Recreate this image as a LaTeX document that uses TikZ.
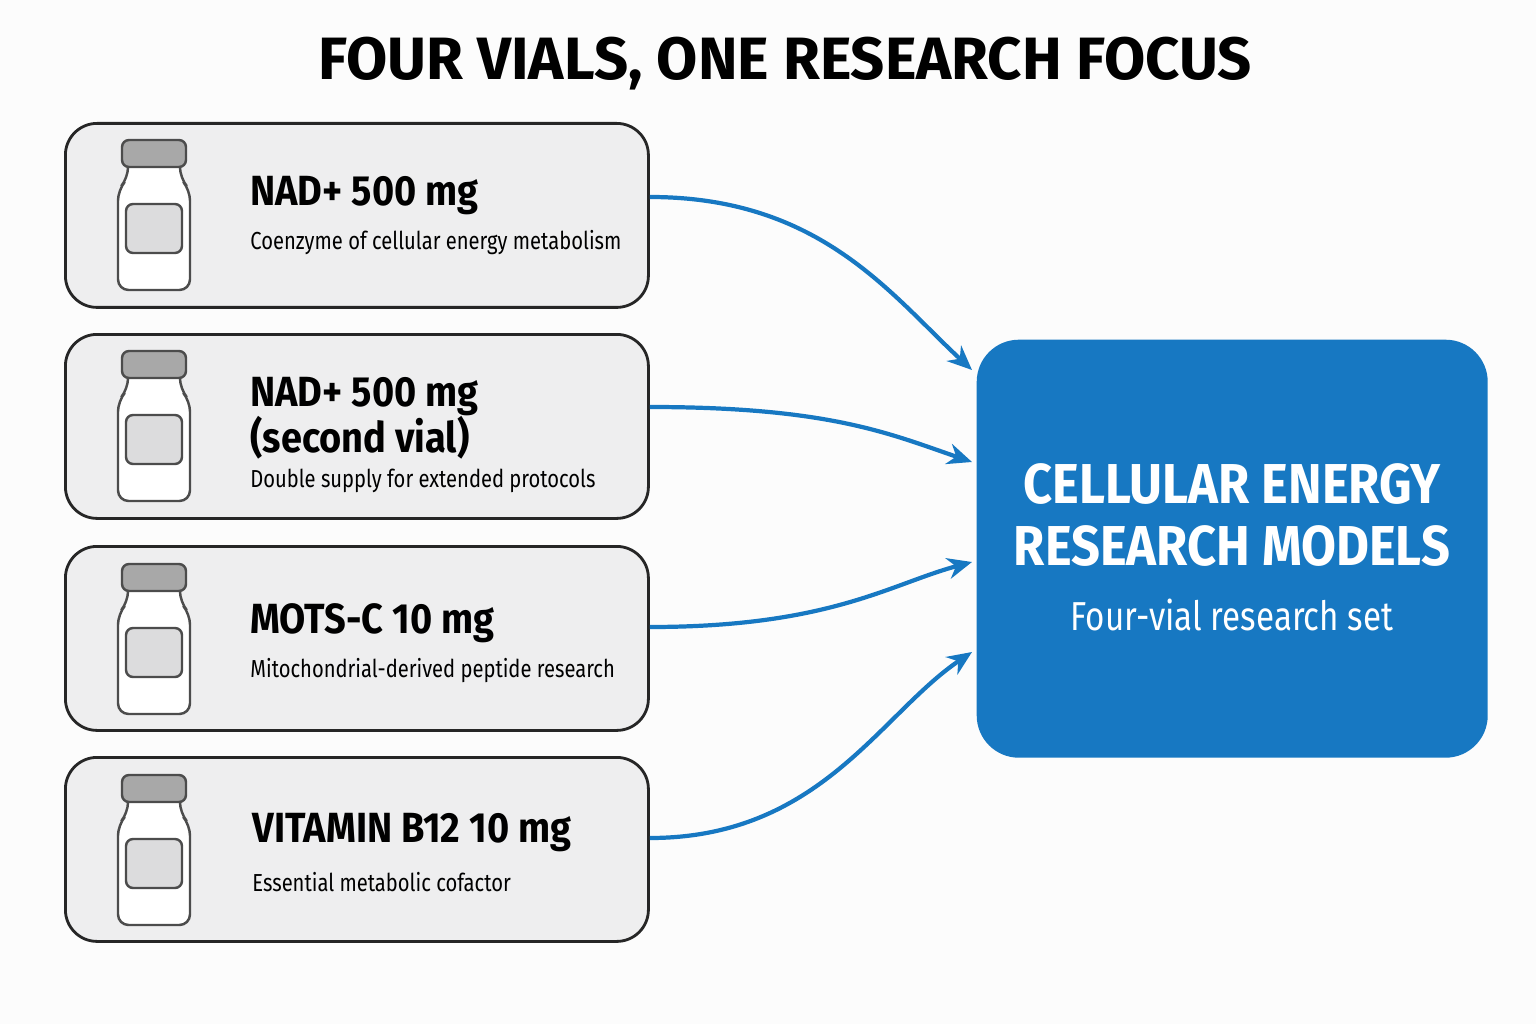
\documentclass[tikz,border=0pt]{standalone}
\usepackage{fontspec}
\setmainfont{Fira Sans}
\newfontfamily\narrowfont[FakeStretch=0.82]{Fira Sans}
\newfontfamily\semifont[FakeStretch=0.9]{Fira Sans}
\usetikzlibrary{positioning,arrows.meta}
\definecolor{panel}{HTML}{EEEEEF}
\definecolor{bluebox}{HTML}{1778C2}
\definecolor{capgray}{HTML}{A8A8A8}
\definecolor{labelgray}{HTML}{DCDCDD}
\tikzset{
  card/.style={draw=black!85, line width=0.8pt, fill=panel, rounded corners=9pt,
    minimum width=5.83cm, minimum height=1.84cm, anchor=north west},
  feed/.style={-{Stealth[length=7pt,width=6pt]}, draw=bluebox, line width=1.2pt},
  vialname/.style={anchor=west, font=\semifont\bfseries\fontsize{12}{14}\selectfont},
  vialnote/.style={anchor=west, font=\narrowfont\fontsize{7}{9}\selectfont}
}
\newcommand{\vial}[2]{% x,y of cap top-left
  \draw[black!70, line width=0.7pt, fill=white, rounded corners=3pt]
    (#1+0.06,#2-0.2) -- (#1+0.06,#2-0.38) -- (#1-0.04,#2-0.50) -- (#1-0.04,#2-1.50)
    -- (#1+0.68,#2-1.50) -- (#1+0.68,#2-0.50) -- (#1+0.58,#2-0.38) -- (#1+0.58,#2-0.2);
  \draw[black!70, line width=0.7pt, fill=capgray, rounded corners=2pt] (#1,#2) rectangle ++(0.64,-0.27);
  \draw[black!70, line width=0.7pt, fill=labelgray, rounded corners=2pt] (#1+0.04,#2-0.64) rectangle ++(0.56,-0.49);
}
\begin{document}
\begin{tikzpicture}
  \useasboundingbox (0,0) rectangle (15.36,10.24);
  \fill[white!98!gray] (0,0) rectangle (15.36,10.24);
  % title
  \node[font=\bfseries\fontsize{17}{20}\selectfont] (title) at (7.85,9.60) {FOUR VIALS, ONE RESEARCH FOCUS};
  % cards
  \node[card] (nad) at (0.64,9.02) {};
  \node[card] (nadtwo) at (0.64,6.91) {};
  \node[card] (mots) at (0.64,4.79) {};
  \node[card] (btwelve) at (0.64,2.68) {};
  \foreach \y in {8.84,6.73,4.60,2.49} {\vial{1.22}{\y}}
  % card texts
  \node[vialname] (nadname) at (2.38,8.28) {NAD+ 500 mg};
  \node[vialnote] (nadnote) at (2.38,7.81) {Coenzyme of cellular energy metabolism};
  \node[vialname] (nadtwoname) at (2.38,6.27) {NAD+ 500 mg};
  \node[vialname] (nadtwosub) at (2.38,5.86) {(second vial)};
  \node[vialnote] (nadtwonote) at (2.38,5.43) {Double supply for extended protocols};
  \node[vialname] (motsname) at (2.38,4.01) {MOTS-C 10 mg};
  \node[vialnote] (motsnote) at (2.38,3.53) {Mitochondrial-derived peptide research};
  \node[vialname] (btwelvename) at (2.40,1.91) {VITAMIN B12 10 mg};
  \node[vialnote] (btwelvenote) at (2.40,1.42) {Essential metabolic cofactor};
  % target
  \node[fill=bluebox, rounded corners=12pt, minimum width=5.11cm, minimum height=4.18cm,
    anchor=north west] (target) at (9.76,6.85) {};
  \node[white, font=\semifont\bfseries\fontsize{16}{17.7}\selectfont, align=center] (targetname) at (12.32,5.09)
    {CELLULAR ENERGY\\RESEARCH MODELS};
  \node[white, font=\narrowfont\fontsize{11.5}{14}\selectfont] (targetnote) at (12.32,4.09) {Four-vial research set};
  % connectors
  \coordinate (ina) at (9.72,6.54);
  \coordinate (inb) at (9.72,5.62);
  \coordinate (inc) at (9.72,4.62);
  \coordinate (ind) at (9.72,3.72);
  \draw[feed] (nad.east |- 0,8.27) .. controls (8.2,8.27) and (8.9,7.3) .. (ina);
  \draw[feed] (nadtwo.east |- 0,6.17) .. controls (8.3,6.17) and (8.9,5.9) .. (inb);
  \draw[feed] (mots.east |- 0,3.97) .. controls (8.3,3.97) and (8.9,4.4) .. (inc);
  \draw[feed] (btwelve.east |- 0,1.86) .. controls (8.2,1.86) and (8.8,3.1) .. (ind);
\end{tikzpicture}
\end{document}
